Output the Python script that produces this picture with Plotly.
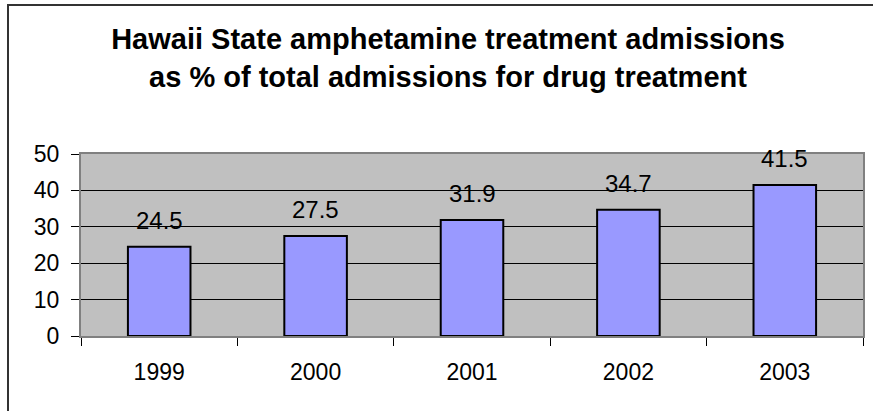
import plotly.graph_objects as go

# Admissions data
years = ["1999", "2000", "2001", "2002", "2003"]
pct_amphetamine = [24.5, 27.5, 31.9, 34.7, 41.5]
y_ticks = [0, 10, 20, 30, 40, 50]

W, H = 873, 411
M_L, M_R, M_T, M_B = 81, 10, 154, 75
plot_w = W - M_L - M_R
plot_h = H - M_T - M_B

FONT = "Liberation Sans, Arial, sans-serif"

fig = go.Figure()
fig.add_trace(go.Bar(
    x=years,
    y=pct_amphetamine,
    width=0.4,
    marker=dict(color="#9999FF", line=dict(color="#000000", width=2)),
    hoverinfo="x+y",
))

# value labels above each bar (category index positions)
for i, v in enumerate(pct_amphetamine):
    fig.add_annotation(
        x=i, y=v, text=f"{v}", showarrow=False,
        yanchor="bottom", yshift=11,
        font=dict(family=FONT, size=24, color="#000000"),
    )

# outer chart frame (top and left edges visible)
def px_to_paper_x(px):
    return (px - M_L) / plot_w

def px_to_paper_y(py):
    return (H - M_B - py) / plot_h

fig.add_shape(
    type="rect", xref="paper", yref="paper",
    x0=px_to_paper_x(8), x1=px_to_paper_x(W + 20),
    y0=px_to_paper_y(H + 20), y1=px_to_paper_y(5),
    line=dict(color="#333333", width=2), fillcolor="rgba(0,0,0,0)",
    layer="above",
)

fig.update_layout(
    width=W, height=H,
    margin=dict(l=M_L, r=M_R, t=M_T, b=M_B, autoexpand=False),
    paper_bgcolor="#FFFFFF",
    plot_bgcolor="#C0C0C0",
    showlegend=False,
    title=dict(
        text="Hawaii State amphetamine treatment admissions<br>as % of total admissions for drug treatment",
        x=448 / W, xref="container", xanchor="center",
        y=1 - 49 / H, yref="container", yanchor="top",
        font=dict(family=FONT, size=29, color="#000000", weight="bold"),
    ),
    xaxis=dict(
        type="category",
        range=[-0.5, len(years) - 0.5],
        tickson="boundaries",
        ticks="outside", ticklen=8, tickwidth=1, tickcolor="#000000",
        showline=True, linecolor="#808080", linewidth=2, mirror=True,
        showgrid=False,
        tickangle=0,
        tickfont=dict(family=FONT, size=23, color="#000000"),
        ticklabelstandoff=14,
    ),
    yaxis=dict(
        range=[0, 50],
        tickvals=y_ticks,
        ticks="outside", ticklen=8, tickwidth=1, tickcolor="#000000",
        showline=True, linecolor="#808080", linewidth=2, mirror=True,
        showgrid=True, gridcolor="#000000", gridwidth=1,
        zeroline=False,
        tickfont=dict(family=FONT, size=23, color="#000000"),
        ticklabelstandoff=7,
    ),
)

fig.write_html("out.html")
